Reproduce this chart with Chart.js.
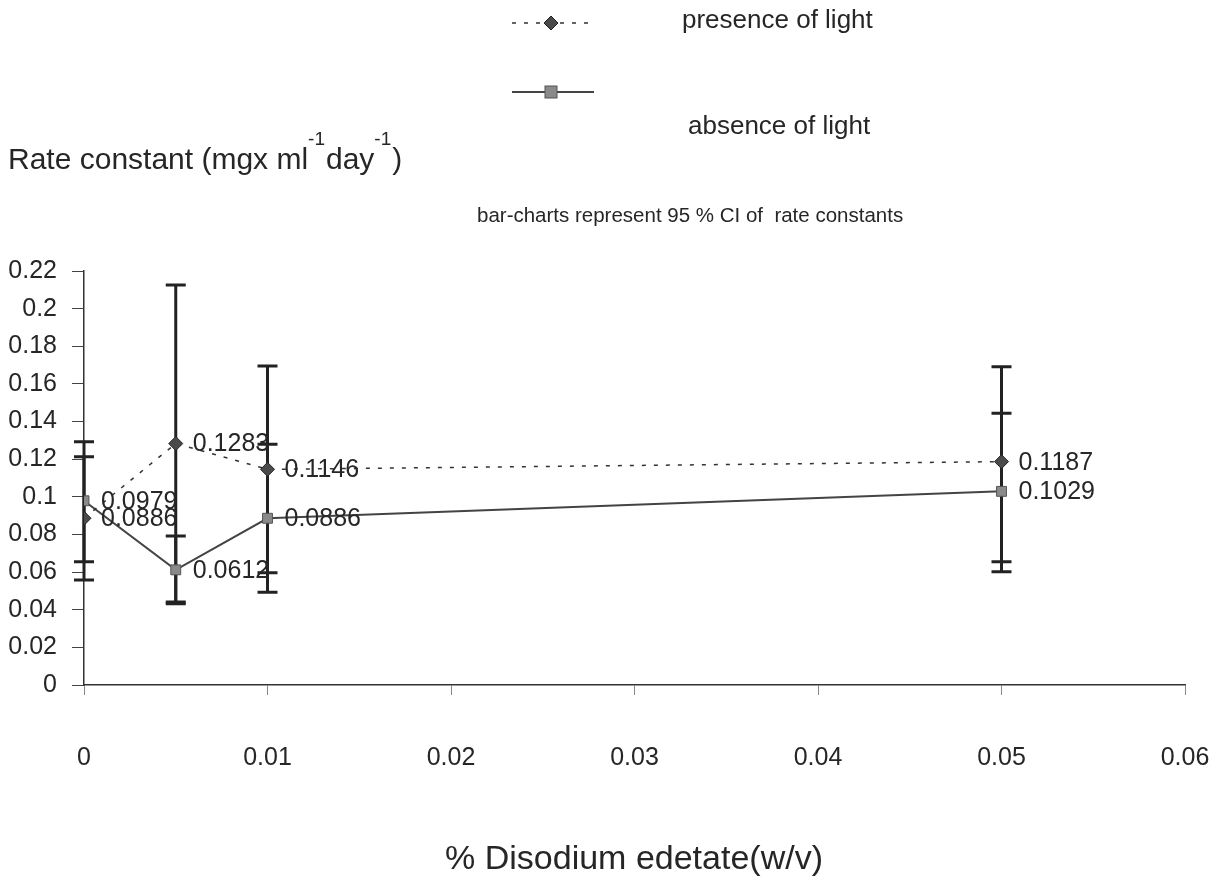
<!DOCTYPE html>
<html>
<head>
<meta charset="utf-8">
<script src="https://cdn.jsdelivr.net/npm/chart.js@4"></script>
<style>
  html, body { margin: 0; padding: 0; background: #fff; }
  #wrap { width: 1226px; height: 879px; }
</style>
</head>
<body>
<div id="wrap"><canvas id="chart" width="1226" height="879"></canvas></div>
<script>
var edetate = [0, 0.005, 0.01, 0.05];
var presence = [0.0886, 0.1283, 0.1146, 0.1187];
var presenceLow = [0.0558, 0.0441, 0.0597, 0.0655];
var presenceHigh = [0.1213, 0.2125, 0.1695, 0.1691];
var absence = [0.0979, 0.0612, 0.0886, 0.1029];
var absenceLow = [0.0655, 0.0432, 0.0493, 0.0602];
var absenceHigh = [0.1293, 0.0792, 0.1279, 0.1444];
var presenceLabels = ['0.0886', '0.1283', '0.1146', '0.1187'];
var absenceLabels = ['0.0979', '0.0612', '0.0886', '0.1029'];

var FONT = '"Liberation Sans", Arial, sans-serif';
var INK = '#262626';

function toPoints(xs, ys) {
	return xs.map(function(x, i) { return {x: x, y: ys[i]}; });
}

// 95 % CI bars, drawn under the markers
var errorBars = {
	id: 'errorBars',
	beforeDatasetsDraw: function(chart) {
		var ctx = chart.ctx;
		var xs = chart.scales.x, ys = chart.scales.y;
		var sets = [[presenceLow, presenceHigh], [absenceLow, absenceHigh]];
		ctx.save();
		ctx.strokeStyle = '#222';
		ctx.lineWidth = 3;
		sets.forEach(function(s) {
			edetate.forEach(function(x, i) {
				var px = xs.getPixelForValue(x);
				var lo = ys.getPixelForValue(s[0][i]);
				var hi = ys.getPixelForValue(s[1][i]);
				ctx.beginPath();
				ctx.moveTo(px, lo); ctx.lineTo(px, hi);
				ctx.moveTo(px - 10, lo); ctx.lineTo(px + 10, lo);
				ctx.moveTo(px - 10, hi); ctx.lineTo(px + 10, hi);
				ctx.stroke();
			});
		});
		ctx.restore();
	}
};

// value labels, titles and the loose legend
var annotations = {
	id: 'annotations',
	afterDraw: function(chart) {
		var ctx = chart.ctx;
		ctx.save();
		ctx.fillStyle = INK;
		ctx.textBaseline = 'middle';

		// data labels
		ctx.font = '25px ' + FONT;
		ctx.textAlign = 'left';
		[presenceLabels, absenceLabels].forEach(function(labels, d) {
			chart.getDatasetMeta(d).data.forEach(function(pt, i) {
				ctx.fillText(labels[i], pt.x + 17, pt.y + 1);
			});
		});

		// y title with superscripts
		var x = 8, base = 169;
		ctx.textBaseline = 'alphabetic';
		var parts = [['Rate constant (mgx ml', false], ['-1', true], ['day', false], ['-1', true], [')', false]];
		parts.forEach(function(p) {
			ctx.font = p[1] ? '19px ' + FONT : '30px ' + FONT;
			ctx.fillText(p[0], x, p[1] ? base - 24 : base);
			x += ctx.measureText(p[0]).width + (p[1] ? 1 : 0);
		});

		// note
		ctx.font = '20.5px ' + FONT;
		ctx.fillText('bar-charts represent 95 % CI of  rate constants', 477, 222);

		// x title
		ctx.font = '34px ' + FONT;
		ctx.textAlign = 'center';
		ctx.fillText('% Disodium edetate(w/v)', 634, 869);

		// legend
		ctx.textAlign = 'left';
		ctx.textBaseline = 'middle';
		ctx.font = '26px ' + FONT;
		ctx.fillText('presence of light', 682, 21);
		ctx.fillText('absence of light', 688, 127);

		ctx.lineWidth = 1.5;
		ctx.strokeStyle = '#333';
		ctx.setLineDash([4, 8]);
		ctx.beginPath(); ctx.moveTo(512, 23); ctx.lineTo(594, 23); ctx.stroke();
		ctx.setLineDash([]);
		ctx.strokeStyle = '#444';
		ctx.lineWidth = 2;
		ctx.beginPath(); ctx.moveTo(512, 92); ctx.lineTo(594, 92); ctx.stroke();

		ctx.fillStyle = '#4a4a4a';
		ctx.strokeStyle = '#222';
		ctx.lineWidth = 1;
		ctx.beginPath();
		ctx.moveTo(551, 16); ctx.lineTo(558, 23); ctx.lineTo(551, 30); ctx.lineTo(544, 23); ctx.closePath();
		ctx.fill(); ctx.stroke();
		ctx.fillStyle = '#8a8a8a';
		ctx.strokeStyle = '#555';
		ctx.fillRect(545, 86, 12, 12);
		ctx.strokeRect(545, 86, 12, 12);
		ctx.restore();
	}
};

new Chart(document.getElementById('chart'), {
	type: 'line',
	data: {
		datasets: [{
			label: 'presence of light',
			data: toPoints(edetate, presence),
			borderColor: '#333',
			borderWidth: 1.5,
			borderDash: [4, 8],
			pointStyle: 'rectRot',
			pointRadius: 7,
			pointBackgroundColor: '#4a4a4a',
			pointBorderColor: '#222',
			pointBorderWidth: 1
		}, {
			label: 'absence of light',
			data: toPoints(edetate, absence),
			borderColor: '#444',
			borderWidth: 2,
			pointStyle: 'rect',
			pointRadius: 7,
			pointBackgroundColor: '#8a8a8a',
			pointBorderColor: '#555',
			pointBorderWidth: 1
		}]
	},
	options: {
		responsive: false,
		animation: false,
		layout: {padding: {left: 0, top: 271, right: 41, bottom: 94}},
		plugins: {legend: {display: false}, tooltip: {enabled: false}},
		scales: {
			x: {
				type: 'linear',
				min: 0, max: 0.06,
				afterFit: function(scale) {
					scale.height = 100;
					scale.paddingLeft = 0;
					scale.paddingRight = 0;
				},
				ticks: {stepSize: 0.01, color: INK, padding: 48, font: {family: FONT, size: 25}},
				grid: {drawOnChartArea: false, tickLength: 10, color: '#888'},
				border: {color: '#333', width: 1.5}
			},
			y: {
				min: 0, max: 0.22,
				afterFit: function(scale) {
					scale.width = 84;
					scale.paddingTop = 0;
					scale.paddingBottom = 0;
				},
				ticks: {
					stepSize: 0.02, color: INK, padding: 15, font: {family: FONT, size: 25},
					callback: function(v) { return String(Number(v.toFixed(2))); }
				},
				grid: {drawOnChartArea: false, tickLength: 12, color: '#444'},
				border: {color: '#333', width: 1.5}
			}
		}
	},
	plugins: [errorBars, annotations]
});
</script>
</body>
</html>
